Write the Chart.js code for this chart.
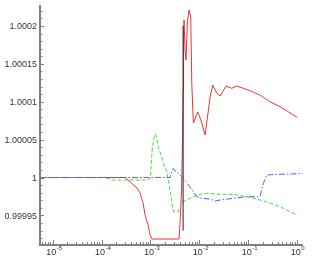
<!DOCTYPE html>
<html>
<head>
<meta charset="utf-8">
<script src="https://cdn.jsdelivr.net/npm/chart.js@4.4.0/dist/chart.umd.min.js"></script>
<style>
  html, body { margin: 0; padding: 0; background: #fff; }
  canvas { display: block; }
</style>
</head>
<body>
<canvas id="chart" width="318" height="261"></canvas>
<script>
// axis ticks
var xTickExps = [-5, -4, -3, -2, -1, 0];
var yTickValues = [0.99995, 1, 1.00005, 1.0001, 1.00015, 1.0002];
var yTickLabels = ['0.99995', '1', '1.00005', '1.0001', '1.00015', '1.0002'];

// red (solid)
var redX = [5.5e-6, 3.03e-4, 3.48e-4, 5.32e-4, 6.12e-4, 7.06e-4, 7.76e-4, 8.93e-4, 9.82e-4, 1.08e-3,
    3.85e-3, 4.03e-3, 4.33e-3, 4.53e-3, 4.65e-3, 4.75e-3, 4.86e-3, 5.10e-3, 5.34e-3, 5.69e-3,
    6.15e-3, 6.67e-3, 7.0e-3, 7.53e-3, 9.27e-3, 1.08e-2, 1.31e-2, 1.66e-2, 1.88e-2, 2.20e-2,
    2.65e-2, 3.52e-2, 4.60e-2, 5.82e-2, 0.109, 0.174, 0.279, 0.447, 1.01];
var redY = [1, 1, 0.9999967, 0.9999861, 0.9999796, 0.9999664, 0.9999505, 0.9999373, 0.9999242, 0.9999189,
    0.9999189, 0.99994, 0.9999835, 1.0000495, 1.0001154, 1.0001814, 1.0002078, 1.0001682, 1.000155, 1.0002051,
    1.000221, 1.0002117, 1.0001247, 1.0000719, 1.0000864, 1.0000758, 1.0000561, 1.0001062, 1.000122, 1.0001128,
    1.0001075, 1.0001207, 1.0001177, 1.0001207, 1.0001145, 1.0001088, 1.0001, 1.0000934, 1.0000794];

// green (dashed)
var greenX = [5.5e-6, 1.18e-4, 1.64e-4, 8.93e-4, 1.0e-3, 1.08e-3, 1.19e-3, 1.27e-3, 1.36e-3, 1.50e-3,
    1.65e-3, 1.84e-3, 2.16e-3, 2.51e-3, 2.94e-3, 3.72e-3, 4.37e-3, 5.52e-3, 8.85e-3, 1.42e-2,
    2.65e-2, 4.95e-2, 0.109, 0.238, 0.447, 1.0];
var greenY = [1, 1, 0.9999967, 0.9999967, 0.9999993, 1.0000363, 1.0000547, 1.0000574, 1.0000495, 1.0000363,
    1.0000297, 1.0000191, 1.0000073, 0.9999835, 0.9999549, 0.9999549, 0.9999677, 0.9999703, 0.9999769, 0.9999792,
    0.9999778, 0.9999778, 0.9999739, 0.9999681, 0.9999615, 0.9999505];

// blue (dash-dot)
var blueX = [5.5e-6, 2.51e-3, 2.72e-3, 2.94e-3, 3.33e-3, 3.72e-3, 4.71e-3, 6.38e-3, 8.85e-3, 1.12e-2,
    1.66e-2, 2.09e-2, 2.65e-2, 4.95e-2, 9.31e-2, 0.174, 0.204, 0.239, 0.383, 0.716, 1.30];
var blueY = [1, 1, 1.0000077, 1.0000121, 1.0000073, 1.0000055, 0.9999989, 0.9999879, 0.9999747, 0.9999726,
    0.9999716, 0.999969, 0.9999703, 0.9999726, 0.9999747, 0.9999747, 0.9999923, 1.0000033, 1.0000042, 1.0000046, 1.0000055];

// black (vertical jump)
var blackX = [4.65e-3, 4.65e-3];
var blackY = [0.99993, 1.0002];

function pts(xs, ys) {
    return xs.map(function (x, i) { return { x: x, y: ys[i] }; });
}

// axes drawn by hand: ticks point inwards, labels 10^n
var axesPlugin = {
    id: 'axes',
    afterDraw: function (chart) {
        var ctx = chart.ctx, a = chart.chartArea;
        var xs = chart.scales.x, ys = chart.scales.y;
        ctx.save();
        ctx.strokeStyle = '#808080';
        ctx.lineWidth = 1;
        ctx.beginPath();
        // y ticks every 0.00001, major every 0.00005
        for (var i = -8; i <= 22; i++) {
            var v = 1 + i * 1e-5;
            if (v < ys.min || v > ys.max) continue;
            var py = Math.round(ys.getPixelForValue(v)) + 0.5;
            var len = (i % 5 === 0) ? 4 : 2.5;
            ctx.moveTo(a.left, py);
            ctx.lineTo(a.left + len, py);
        }
        // x ticks: decades and 2..9
        for (var e = -6; e <= 0; e++) {
            for (var m = 1; m <= 9; m++) {
                var xv = m * Math.pow(10, e);
                if (xv < xs.min || xv > xs.max) continue;
                var px = Math.round(xs.getPixelForValue(xv)) + 0.5;
                var l = (m === 1) ? 5 : 3;
                ctx.moveTo(px, a.bottom);
                ctx.lineTo(px, a.bottom - l);
            }
        }
        ctx.stroke();

        ctx.lineWidth = 2;
        ctx.beginPath();
        ctx.moveTo(a.left, a.top);
        ctx.lineTo(a.left, a.bottom);
        ctx.lineTo(a.right, a.bottom);
        ctx.stroke();

        ctx.fillStyle = '#333';
        ctx.font = '9px "Liberation Sans", Arial, sans-serif';
        ctx.textAlign = 'right';
        ctx.textBaseline = 'middle';
        yTickValues.forEach(function (v, k) {
            ctx.fillText(yTickLabels[k], a.left - 3, ys.getPixelForValue(v) + 1);
        });

        xTickExps.forEach(function (n) {
            var px = xs.getPixelForValue(Math.pow(10, n));
            ctx.font = '9px "Liberation Sans", Arial, sans-serif';
            ctx.textAlign = 'right';
            ctx.fillText('10', px + 3.5, a.bottom + 8);
            ctx.font = '6px "Liberation Sans", Arial, sans-serif';
            ctx.textAlign = 'left';
            ctx.fillText(n === 0 ? '0' : String(n), px + 4, a.bottom + 3.5);
        });
        ctx.restore();
    }
};

// first dataset is drawn on top: black, blue, green, red
var ctx = document.getElementById('chart');
var chart = new Chart(ctx, {
    type: 'line',
    data: {
        datasets: [{
            data: pts(blackX, blackY),
            borderColor: '#202020',
            borderWidth: 1
        }, {
            data: pts(blueX, blueY),
            borderColor: '#5a5aff',
            borderWidth: 1,
            borderDash: [6, 2, 1.5, 2]
        }, {
            data: pts(greenX, greenY),
            borderColor: '#44dd44',
            borderWidth: 1,
            borderDash: [4, 2]
        }, {
            data: pts(redX, redY),
            borderColor: '#ee3333',
            borderWidth: 1
        }]
    },
    options: {
        responsive: false,
        animation: false,
        events: [],
        layout: { padding: { left: 40, right: 15, top: 5, bottom: 16 } },
        elements: { point: { radius: 0 }, line: { tension: 0, fill: false } },
        plugins: { legend: { display: false }, tooltip: { enabled: false } },
        scales: {
            x: { type: 'logarithmic', display: false, min: 5.5e-6, max: 1.318 },
            y: { type: 'linear', display: false, min: 0.999911, max: 1.0002276 }
        }
    },
    plugins: [axesPlugin]
});
</script>
</body>
</html>
